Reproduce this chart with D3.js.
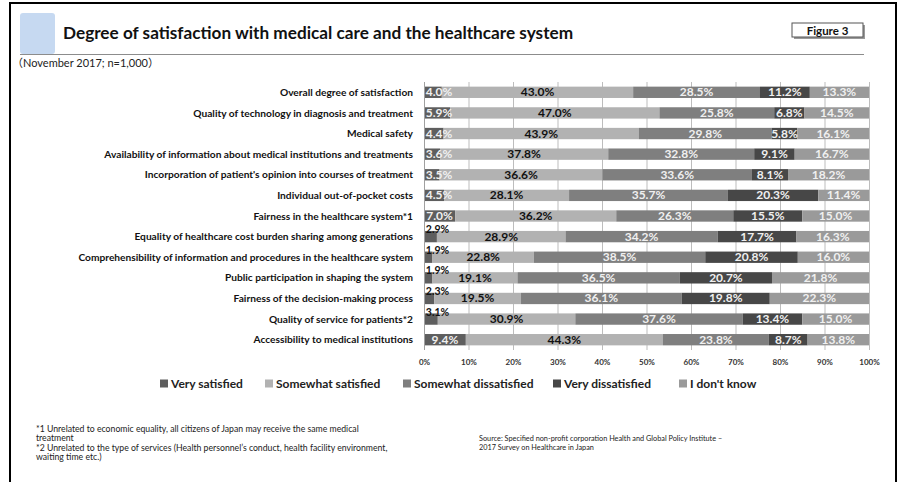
<!DOCTYPE html>
<html><head><meta charset="utf-8">
<script src="https://cdn.jsdelivr.net/npm/d3@7"></script>
<style>
html,body{margin:0;padding:0;background:#fff;}
svg{display:block;font-family:Lato,"Open Sans",sans-serif;}
</style></head>
<body>
<svg id="c" width="901" height="482"></svg>
<script>
const categories = [
  "Overall degree of satisfaction",
  "Quality of technology in diagnosis and treatment",
  "Medical safety",
  "Availability of information about medical institutions and treatments",
  "Incorporation of patient's opinion into courses of treatment",
  "Individual out-of-pocket costs",
  "Fairness in the healthcare system*1",
  "Equality of healthcare cost burden sharing among generations",
  "Comprehensibility of information and procedures in the healthcare system",
  "Public participation in shaping the system",
  "Fairness of the decision-making process ",
  "Quality of service for patients*2",
  "Accessibility to medical institutions"
];
const seriesNames = ["Very satisfied","Somewhat satisfied","Somewhat dissatisfied","Very dissatisfied","I don't know"];
const verySatisfied        = [4.0, 5.9, 4.4, 3.6, 3.5, 4.5, 7.0, 2.9, 1.9, 1.9, 2.3, 3.1, 9.4];
const somewhatSatisfied    = [43.0,47.0,43.9,37.8,36.6,28.1,36.2,28.9,22.8,19.1,19.5,30.9,44.3];
const somewhatDissatisfied = [28.5,25.8,29.8,32.8,33.6,35.7,26.3,34.2,38.5,36.5,36.1,37.6,23.8];
const veryDissatisfied     = [11.2,6.8,5.8,9.1,8.1,20.3,15.5,17.7,20.8,20.7,19.8,13.4,8.7];
const dontKnow             = [13.3,14.5,16.1,16.7,18.2,11.4,15.0,16.3,16.0,21.8,22.3,15.0,13.8];
const tickValues = [0,10,20,30,40,50,60,70,80,90,100];

const seriesValues = [verySatisfied, somewhatSatisfied, somewhatDissatisfied, veryDissatisfied, dontKnow];
const colors = ["#5e5e5e","#b2b2b2","#7f7f7f","#474747","#9a9a9a"];
const labelColors = ["#f0f0f0","#111111","#f0f0f0","#f0f0f0","#f0f0f0"];
const legendX = [160,265,403,553,679];

const svg = d3.select("#c");

// frame
svg.append("rect").attr("x",10).attr("y",3).attr("width",886).attr("height",520)
  .attr("fill","none").attr("stroke","#000").attr("stroke-width",2);

// header
svg.append("rect").attr("x",20).attr("y",13).attr("width",35).attr("height",41).attr("rx",3)
  .attr("fill","#c6d9f1");
svg.append("line").attr("x1",20).attr("x2",864).attr("y1",54.5).attr("y2",54.5)
  .attr("stroke","#8c8c8c").attr("stroke-width",1);
svg.append("text").attr("x",63).attr("y",39).attr("font-size",17.2).attr("font-weight","bold")
  .attr("fill","#111").text("Degree of satisfaction with medical care and the healthcare system");
svg.append("rect").attr("x",794).attr("y",25).attr("width",71).attr("height",14).attr("fill","#9a9a9a");
svg.append("rect").attr("x",792).attr("y",23).attr("width",71).attr("height",14)
  .attr("fill","#fff").attr("stroke","#555").attr("stroke-width",1);
svg.append("text").attr("x",827.5).attr("y",34.5).attr("text-anchor","middle").attr("font-size",11.5)
  .attr("font-weight","bold").attr("fill","#111").text("Figure 3");
svg.append("text").attr("x",12).attr("y",67).attr("font-size",11)
  .attr("font-family","Lato,'Noto Sans CJK JP',sans-serif").attr("fill","#222")
  .text("（November 2017; n=1,000）");

// chart
const x = d3.scaleLinear().domain([0,100]).range([424,869]);
const y = d3.scaleBand().domain(categories).range([82,350]).paddingInner(0.45).paddingOuter(0.225);

// gridlines
svg.append("g").selectAll("line").data(tickValues).join("line")
  .attr("x1",d=>x(d)+0.5).attr("x2",d=>x(d)+0.5).attr("y1",82).attr("y2",350)
  .attr("stroke","#bdbdbd").attr("stroke-width",1);

// axis labels
const xAxis = d3.axisBottom(x).tickValues(tickValues).tickFormat(d=>d+"%").tickSize(0).tickPadding(0);
const ax = svg.append("g").attr("transform","translate(0,359)").call(xAxis);
ax.select(".domain").remove();
ax.selectAll("text").attr("font-size",8).attr("font-weight","bold").attr("fill","#333")
  .attr("font-family","Lato,sans-serif");

// stacks
const rows = categories.map((c,i)=>{ const o={cat:c}; seriesNames.forEach((s,k)=>o[s]=seriesValues[k][i]); return o; });
const stack = d3.stack().keys(seriesNames)(rows);

const g = svg.append("g");
stack.forEach((layer,k)=>{
  g.append("g").selectAll("rect").data(layer).join("rect")
    .attr("x",d=>x(d[0])).attr("width",d=>x(d[1])-x(d[0]))
    .attr("y",d=>y(d.data.cat)).attr("height",y.bandwidth())
    .attr("fill",colors[k]);
});
// labels
stack.forEach((layer,k)=>{
  g.append("g").selectAll("text").data(layer).join("text")
    .attr("font-weight","bold")
    .attr("text-anchor","middle")
    .each(function(d){
      const v = d[1]-d[0];
      const sel = d3.select(this);
      const cy = y(d.data.cat)+y.bandwidth()/2;
      if(k===0 && v<3.3){
        sel.attr("x",x(0)+13.5).attr("y",y(d.data.cat)+2.2).attr("fill","#111").attr("font-size",10.5);
      } else {
        let cx = (x(d[0])+x(d[1]))/2;
        if(k===0) cx = Math.max(cx, x(0)+15);
        sel.attr("x",cx).attr("y",cy+4.0).attr("fill",labelColors[k]).attr("font-size",12);
      }
    })
    .text(d=>(d[1]-d[0]).toFixed(1)+"%");
});

// category labels
svg.append("g").selectAll("text").data(categories).join("text")
  .attr("x",413).attr("y",d=>y(d)+y.bandwidth()/2+3.6)
  .attr("text-anchor","end").attr("font-size",10.2).attr("font-weight","bold").attr("fill","#111")
  .text(d=>d);

// axis line at 0
svg.append("line").attr("x1",x(0)+0.5).attr("x2",x(0)+0.5).attr("y1",82).attr("y2",350)
  .attr("stroke","#a0a0a0");

// legend
const lg = svg.append("g").selectAll("g").data(seriesNames).join("g")
  .attr("transform",(d,k)=>`translate(${legendX[k]},0)`);
lg.append("rect").attr("x",0).attr("y",379.5).attr("width",8).attr("height",8).attr("fill",(d,k)=>colors[k]);
lg.append("text").attr("x",11).attr("y",388).attr("font-size",12).attr("font-weight","bold")
  .attr("fill","#222").text(d=>d);

// footnotes
const notes = [
  "*1 Unrelated to economic equality, all citizens of Japan may receive the same medical",
  "treatment",
  "*2 Unrelated to the type of services (Health personnel\u2019s conduct, health facility environment,",
  "waiting time etc.)"
];
svg.append("g").selectAll("text").data(notes).join("text")
  .attr("x",36).attr("y",(d,i)=>432+i*9.3).attr("font-size",8.7).attr("fill","#222").text(d=>d);
const src = ["Source: Specified non-profit corporation Health and Global Policy Institute \u2013",
  "2017 Survey on Healthcare in Japan"];
svg.append("g").selectAll("text").data(src).join("text")
  .attr("x",479).attr("y",(d,i)=>441+i*9.3).attr("font-size",7.3).attr("fill","#222").text(d=>d);
</script>
</body></html>
